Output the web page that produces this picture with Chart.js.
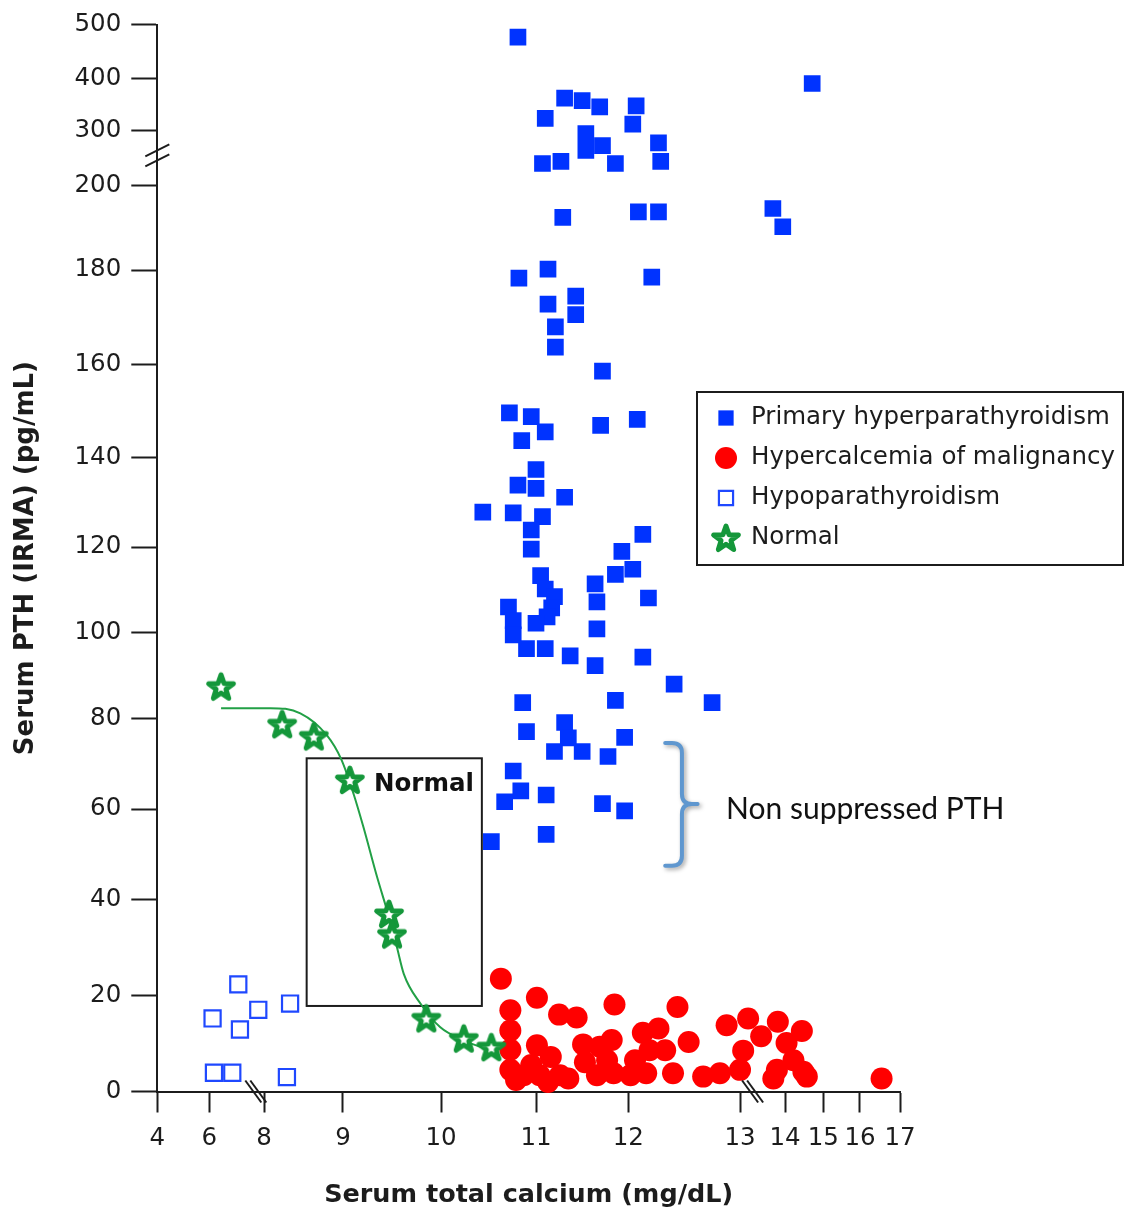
<!DOCTYPE html>
<html>
<head>
<meta charset="utf-8">
<title>Serum PTH vs serum total calcium</title>
<script src="https://cdn.jsdelivr.net/npm/chart.js@4.4.1/dist/chart.umd.min.js"></script>
<style>
  html, body { margin: 0; background: #fff; }
  #wrap { width: 1124px; height: 1212px; position: relative; }
</style>
</head>
<body>
<div id="wrap"><canvas id="chart"></canvas></div>
<script>
const FONT = "'DejaVu Sans', Verdana, sans-serif";
const INK = '#1c1c1c';

// tick values (both axes are broken, so each tick gets its own place on the axis)
const xTicks = [4, 6, 8, 9, 10, 11, 12, 13, 14, 15, 16, 17];
const yTicks = [0, 20, 40, 60, 80, 100, 120, 140, 160, 180, 200, 300, 400, 500];

// Primary hyperparathyroidism
const primaryCa = [10.81, 14.71, 11.31, 11.50, 11.69, 12.07, 11.10, 12.04, 11.54, 11.54, 11.72, 11.86, 12.27, 12.29,
  11.07, 11.27, 11.29, 12.09, 12.27, 13.73, 13.95, 10.82, 11.13, 12.21, 11.13, 11.43, 11.43, 11.21, 11.21,
  11.72, 10.72, 10.95, 11.10, 10.85, 11.70, 12.08, 11.00, 11.00, 10.81, 11.31, 10.44, 10.76, 11.07, 10.95,
  10.95, 12.13, 11.93, 12.04, 11.86, 11.05, 11.10, 11.20, 11.17, 11.12, 11.00, 10.71, 10.76, 10.76, 10.90,
  11.10, 11.37, 11.64, 11.66, 11.66, 11.64, 12.13, 12.18, 12.41, 12.75, 10.86, 11.86, 10.90, 11.31, 11.35,
  11.20, 11.50, 11.96, 11.78, 10.76, 10.84, 10.67, 11.11, 11.72, 11.96, 11.11, 10.53];
const primaryPth = [477, 391, 363, 358, 346, 348, 324, 313, 295, 264, 273, 240, 278, 244,
  240, 244, 192.4, 193.7, 193.7, 194.5, 190.2, 178.3, 180.2, 178.5, 172.8, 174.5, 170.6, 168, 163.7,
  158.6, 149.6, 148.8, 145.5, 143.6, 146.9, 148.2, 137.3, 133.1, 133.8, 131.1, 127.8, 127.6, 126.8, 123.8,
  119.5, 122.8, 119, 114.8, 113.6, 113.3, 110.2, 108.4, 105.8, 103.7, 102.2, 106, 102.8, 99.5, 96.3,
  96.3, 94.6, 111.4, 107.2, 100.9, 92.3, 94.3, 108.1, 88, 83.7, 83.7, 84.2, 77.1, 79.1, 75.7,
  72.7, 72.7, 75.8, 71.6, 68.4, 64, 61.6, 63.1, 61.2, 59.6, 54.4, 52.8];

// Hypercalcemia of malignancy
const malignancyCa = [10.63, 11.01, 11.85, 12.44, 10.73, 11.25, 11.44, 12.88, 13.18, 13.84, 14.44, 10.73, 12.13,
  12.27, 13.47, 11.01, 11.51, 11.82, 12.54, 10.73, 12.19, 13.07, 14.04, 11.16, 11.69, 12.06, 12.33, 14.22,
  14.48, 13.82, 10.73, 10.87, 11.04, 11.26, 11.35, 11.66, 11.84, 12.02, 12.16, 12.40, 12.67, 12.82, 13.00,
  13.74, 14.57, 16.54, 11.77, 10.79, 11.13, 11.53, 10.95];
const malignancyPth = [23.5, 19.5, 18.1, 17.6, 16.9, 16.0, 15.4, 13.8, 15.2, 14.5, 12.6, 12.7, 12.2,
  13.1, 11.5, 9.6, 9.8, 10.7, 10.3, 8.7, 8.6, 8.5, 10.1, 7.2, 9.3, 6.5, 8.6, 6.5,
  4.1, 4.5, 4.5, 3.4, 3.4, 3.4, 2.7, 3.4, 3.8, 3.4, 3.8, 3.8, 3.1, 3.8, 4.5,
  2.7, 3.1, 2.7, 6.5, 2.4, 2.0, 6.1, 5.5];

// Hypoparathyroidism
const hypoCa = [7.06, 6.12, 7.79, 7.12, 8.33, 6.17, 6.84, 8.29];
const hypoPth = [22.3, 15.2, 17.0, 12.9, 18.3, 3.9, 3.9, 3.0];

// Normal subjects and the fitted curve through them
const normalCa = [6.43, 8.23, 8.63, 9.07, 9.47, 9.50, 9.85, 10.24, 10.53];
const normalPth = [87.4, 78.7, 76.0, 66.4, 37.0, 32.7, 15.2, 11.0, 9.2];
const curveCa = [6.43, 8.08, 8.46, 8.79, 8.98, 9.11, 9.21, 9.34, 9.48, 9.55, 9.62, 9.79, 9.99, 10.23, 10.52];
const curvePth = [82.4, 82.4, 81.2, 76.4, 70.9, 63.2, 55.9, 45.6, 35.6, 30.1, 24.5, 18.3, 13.4, 10.7, 8.6];

// annotations, in data units
const normalBox = { x0: 8.54, x1: 10.43, y0: 17.8, y1: 71.2, text: 'Normal' };
const bracket = { hook: 12.33, spine: 12.48, tip: 12.62, top: 74.6, mid: 61.1, bottom: 47.5, textX: 12.875, text: 'Non suppressed PTH' };
const xBreaks = [7.7, 13.28];
const yBreaks = [255];

// where each tick sits along its axis (0 = start, 1 = end)
const xTickPos = [0, 0.070, 0.1437, 0.25, 0.382, 0.5099, 0.6342, 0.7846, 0.8452, 0.8967, 0.9461, 1];
const yTickPos = [0, 0.0901, 0.1798, 0.2648, 0.3497, 0.4301, 0.5104, 0.5944, 0.6813, 0.77, 0.8496, 0.9004, 0.9493, 1];

/* piecewise linear scale for axes with breaks */
class BrokenScale extends Chart.LinearScale {
  determineDataLimits() {
    const s = this.options.stops;
    this.min = s[0][0];
    this.max = s[s.length - 1][0];
  }
  buildTicks() { return this.options.stops.map(([value]) => ({ value })); }
  seg(v, k) {
    const s = this.options.stops;
    let i = 1;
    while (i < s.length - 1 && v > s[i][k]) i++;
    return [s[i - 1], s[i]];
  }
  getPixelForValue(v) {
    if (v === null || isNaN(v)) return NaN;
    const [[v0, f0], [v1, f1]] = this.seg(v, 0);
    return this.getPixelForDecimal(f0 + (v - v0) / (v1 - v0) * (f1 - f0));
  }
  getValueForPixel(p) {
    const d = this.getDecimalForPixel(p);
    const [[v0, f0], [v1, f1]] = this.seg(d, 1);
    return v0 + (d - f0) / (f1 - f0) * (v1 - v0);
  }
}
BrokenScale.id = 'broken';
BrokenScale.defaults = {};
Chart.register(BrokenScale);

function makeStar(color) {
  const c = document.createElement('canvas');
  c.width = c.height = 32;
  const g = c.getContext('2d');
  const R = 13, r = 5.2, cx = 16, cy = 17;
  g.beginPath();
  for (let i = 0; i < 10; i++) {
    const a = -Math.PI / 2 + i * Math.PI / 5, rad = i % 2 ? r : R;
    g.lineTo(cx + rad * Math.cos(a), cy + rad * Math.sin(a));
  }
  g.closePath();
  g.fillStyle = '#fff'; g.fill();
  g.lineWidth = 5; g.lineJoin = 'round'; g.strokeStyle = color; g.stroke();
  return c;
}

const zip = (xs, ys) => xs.map((x, i) => ({ x, y: ys[i] }));
const GREEN = '#14973a';

const axis = (ticks, pos, extra) => Object.assign({
  type: 'broken',
  stops: ticks.map((v, i) => [v, pos[i]]),
  border: { color: INK, width: 2 },
}, extra);

const plugin = {
  id: 'decor',
  beforeDatasetsDraw(chart) {
    const { ctx, scales: { x, y } } = chart;
    const l = x.getPixelForValue(normalBox.x0), r = x.getPixelForValue(normalBox.x1);
    const t = y.getPixelForValue(normalBox.y1), b = y.getPixelForValue(normalBox.y0);
    ctx.save();
    ctx.strokeStyle = INK; ctx.lineWidth = 2;
    ctx.strokeRect(l, t, r - l, b - t);
    ctx.fillStyle = '#111'; ctx.font = `bold 24.5px ${FONT}`;
    ctx.textAlign = 'right'; ctx.textBaseline = 'middle';
    ctx.fillText(normalBox.text, r - 8, t + 26);
    ctx.restore();
  },
  afterDraw(chart) {
    const { ctx, scales: { x, y } } = chart;
    ctx.save();
    // axis break marks
    ctx.strokeStyle = INK; ctx.lineWidth = 2;
    const ax = x.getPixelForValue(4), ay = y.getPixelForValue(0);
    for (const v of yBreaks) {
      const cy = y.getPixelForValue(v);
      for (const d of [-5, 5]) {
        ctx.beginPath(); ctx.moveTo(ax - 12, cy + d + 6); ctx.lineTo(ax + 12, cy + d - 6); ctx.stroke();
      }
    }
    for (const v of xBreaks) {
      const cx = x.getPixelForValue(v);
      for (const d of [-2.5, 2.5]) {
        ctx.beginPath(); ctx.moveTo(cx + d - 8, ay - 11); ctx.lineTo(cx + d + 8, ay + 11); ctx.stroke();
      }
    }

    // bracket
    const hx = x.getPixelForValue(bracket.hook), sx = x.getPixelForValue(bracket.spine), tx = x.getPixelForValue(bracket.tip);
    const ty = y.getPixelForValue(bracket.top), my = y.getPixelForValue(bracket.mid), by = y.getPixelForValue(bracket.bottom);
    const k = 10;
    ctx.save();
    ctx.shadowColor = 'rgba(0,0,0,0.35)'; ctx.shadowBlur = 4; ctx.shadowOffsetX = 2; ctx.shadowOffsetY = 2;
    ctx.strokeStyle = '#5f97cf'; ctx.lineWidth = 4; ctx.lineCap = 'round'; ctx.lineJoin = 'round';
    ctx.beginPath();
    ctx.moveTo(hx, ty); ctx.lineTo(sx - k, ty); ctx.quadraticCurveTo(sx, ty, sx, ty + k);
    ctx.lineTo(sx, my - k); ctx.quadraticCurveTo(sx, my, sx + k, my); ctx.lineTo(tx, my);
    ctx.moveTo(sx + k, my); ctx.quadraticCurveTo(sx, my, sx, my + k);
    ctx.lineTo(sx, by - k); ctx.quadraticCurveTo(sx, by, sx - k, by); ctx.lineTo(hx, by);
    ctx.stroke();
    ctx.restore();
    ctx.fillStyle = '#111'; ctx.font = "30px Lato, 'Open Sans', sans-serif";
    ctx.textAlign = 'left'; ctx.textBaseline = 'middle';
    ctx.fillText(bracket.text, x.getPixelForValue(bracket.textX), y.getPixelForValue(60));

    // legend
    const items = chart.data.datasets.filter(d => d.label);
    const lx = 697, ly = 392, lw = 426, lh = 173;
    ctx.strokeStyle = INK; ctx.lineWidth = 2;
    ctx.strokeRect(lx, ly, lw, lh);
    ctx.font = `24.5px ${FONT}`; ctx.textBaseline = 'middle';
    items.forEach((d, i) => {
      const cy = ly + 26 + i * 40, cx = lx + 29;
      ctx.fillStyle = d.backgroundColor; ctx.strokeStyle = d.borderColor;
      ctx.lineWidth = d.borderWidth || 0;
      Chart.helpers.drawPoint(ctx, { pointStyle: d.pointStyle, rotation: 0, radius: d.legendRadius || d.pointRadius, borderWidth: d.borderWidth || 0 }, cx, cy);
      ctx.fillStyle = INK;
      ctx.fillText(d.label, lx + 54, cy);
    });
    ctx.restore();
  }
};

new Chart(document.getElementById('chart'), {
  type: 'scatter',
  data: {
    datasets: [
      { label: 'Primary hyperparathyroidism', data: zip(primaryCa, primaryPth), order: 1,
        pointStyle: 'rect', pointRadius: 11.8, legendRadius: 10.8, backgroundColor: '#0033ff', borderColor: '#0033ff', borderWidth: 0 },
      { label: 'Hypercalcemia of malignancy', data: zip(malignancyCa, malignancyPth), order: 3,
        pointStyle: 'circle', pointRadius: 11, backgroundColor: '#ff0000', borderColor: '#ff0000', borderWidth: 0 },
      { label: 'Hypoparathyroidism', data: zip(hypoCa, hypoPth), order: 2,
        pointStyle: 'rect', pointRadius: 11.4, legendRadius: 10, backgroundColor: '#fff', borderColor: '#1f48ff', borderWidth: 2.2 },
      { label: 'Normal', data: zip(normalCa, normalPth), order: 0,
        pointStyle: makeStar(GREEN), pointRadius: 14, backgroundColor: GREEN, borderColor: GREEN, borderWidth: 0 },
      { label: '', data: zip(curveCa, curvePth), order: 4, showLine: true, pointRadius: 0,
        borderColor: '#22a046', borderWidth: 2, cubicInterpolationMode: 'monotone' },
    ],
  },
  options: {
    responsive: true, maintainAspectRatio: false, animation: false, devicePixelRatio: 1,
    layout: { padding: { top: 20.7, right: 224, left: 0, bottom: 0 } },
    elements: { point: { hoverRadius: 0 } },
    plugins: { legend: { display: false }, tooltip: { enabled: false } },
    scales: {
      x: axis(xTicks, xTickPos, {
        position: 'bottom',
        afterFit: (s) => { s.height = 120.5; },
        grid: { drawOnChartArea: false, tickLength: 21, tickWidth: 2, tickColor: INK },
        ticks: { autoSkip: false, maxRotation: 0, padding: 11, color: INK, font: { family: FONT, size: 24.5 }, callback: (v) => String(v) },
        title: { display: true, text: 'Serum total calcium (mg/dL)', color: INK, padding: { top: 0, bottom: 1.7 },
          font: { family: FONT, size: 25.5, weight: 'bold' } },
      }),
      y: axis(yTicks, yTickPos, {
        position: 'left',
        afterFit: (s) => { s.width = 157.3; },
        grid: { drawOnChartArea: false, tickLength: 26, tickWidth: 2, tickColor: INK },
        ticks: { autoSkip: false, padding: 10, color: INK, font: { family: FONT, size: 24.5 }, callback: (v) => String(v) },
        title: { display: true, text: 'Serum PTH (IRMA) (pg/mL)', color: INK, padding: { top: 10.7, bottom: 0 },
          font: { family: FONT, size: 26, weight: 'bold' } },
      }),
    },
  },
  plugins: [plugin],
});
</script>
</body>
</html>
